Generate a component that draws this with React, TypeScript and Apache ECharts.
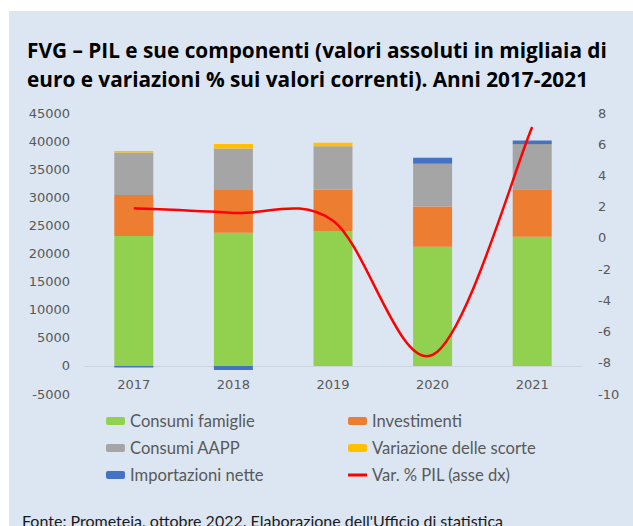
import React, { useEffect, useRef } from "react";
import * as echarts from "echarts";

const years = ["2017", "2018", "2019", "2020", "2021"];
const consumiFamiglie = [23100, 23700, 24000, 21200, 23000];
const investimenti = [7300, 7600, 7400, 7150, 8450];
const consumiAAPP = [7550, 7400, 7700, 7600, 7850];
const variazioneScorte = [300, 800, 600, 0, 100];
const importazioniNette = [-300, -750, 0, 1100, 700];
const varPil = [1.9, 1.6, 1.1, -7.5, 7.1];

const titleText =
  "FVG – PIL e sue componenti (valori assoluti in migliaia di\neuro e variazioni % sui valori correnti). Anni 2017-2021";
const sourceText = "Fonte: Prometeia, ottobre 2022. Elaborazione dell'Ufficio di statistica";

const AXIS_FONT = "'DejaVu Sans', sans-serif";
const TEXT_FONT = "Lato, 'Open Sans', sans-serif";
const TITLE_FONT = "'Open Sans', sans-serif";

export default function App() {
  const ref = useRef<HTMLDivElement>(null);
  useEffect(() => {
    if (!ref.current) return;
    const chart = echarts.init(ref.current, undefined, { renderer: "svg" });
    const barCommon = {
      type: "bar" as const,
      stack: "tot",
      barWidth: 39,
      yAxisIndex: 0,
    };
    // Excel-like smoothed line (Catmull-Rom through the data points)
    const renderPil = (params: any, api: any) => {
      if (params.dataIndex !== 0) return null;
      const pts = varPil.map((v, i) => api.coord([i, v]));
      let d = `M${pts[0][0]},${pts[0][1]}`;
      for (let i = 0; i < pts.length - 1; i++) {
        const p0 = pts[Math.max(0, i - 1)];
        const p1 = pts[i];
        const p2 = pts[i + 1];
        const p3 = pts[Math.min(pts.length - 1, i + 2)];
        const c1x = p1[0] + (p2[0] - p0[0]) / 6;
        const c1y = p1[1] + (p2[1] - p0[1]) / 6;
        const c2x = p2[0] - (p3[0] - p1[0]) / 6;
        const c2y = p2[1] - (p3[1] - p1[1]) / 6;
        d += ` C${c1x},${c1y} ${c2x},${c2y} ${p2[0]},${p2[1]}`;
      }
      return {
        type: "path",
        shape: { pathData: d },
        style: { stroke: "#ff0000", lineWidth: 2.5, fill: "none" },
      };
    };
    const legendText = { fontFamily: TEXT_FONT, fontSize: 16.6, color: "#595959", lineHeight: 18 };
    chart.setOption({
      animation: false,
      backgroundColor: "#ffffff",
      title: {
        text: titleText,
        left: 22,
        top: 30,
        textStyle: {
          fontFamily: TITLE_FONT,
          fontSize: 20.8,
          fontWeight: "bold",
          color: "#000000",
          lineHeight: 29,
        },
      },
      graphic: [
        {
          type: "rect",
          z: -100,
          silent: true,
          shape: { x: 9, y: 11, width: 624, height: 515 },
          style: { fill: "#dce6f2" },
        },
        {
          type: "text",
          left: 22,
          top: 512,
          style: {
            text: sourceText,
            fontFamily: TEXT_FONT,
            fontSize: 16,
            fill: "#1a1a1a",
          },
        },
      ],
      grid: { left: 84, right: 51, top: 113, bottom: 132, containLabel: false },
      xAxis: {
        type: "category",
        data: years,
        position: "bottom",
        offset: -28,
        axisLine: { onZero: false, lineStyle: { color: "#ccd5df", width: 1 } },
        axisTick: { show: false },
        axisLabel: { fontFamily: AXIS_FONT, fontSize: 13, color: "#595959", margin: 12 },
      },
      yAxis: [
        {
          type: "value",
          min: -5000,
          max: 45000,
          interval: 5000,
          axisLine: { show: false },
          axisTick: { show: false },
          splitLine: { show: false },
          axisLabel: {
            fontFamily: AXIS_FONT,
            fontSize: 13,
            color: "#595959",
            margin: 14,
            formatter: (v: number) => String(v),
          },
        },
        {
          type: "value",
          min: -10,
          max: 8,
          interval: 2,
          position: "right",
          axisLine: { show: false },
          axisTick: { show: false },
          splitLine: { show: false },
          axisLabel: {
            fontFamily: AXIS_FONT,
            fontSize: 13,
            color: "#595959",
            margin: 16,
            formatter: (v: number) => String(v),
          },
        },
      ],
      legend: [
        {
          left: 101,
          top: 407,
          orient: "vertical",
          itemWidth: 19,
          itemHeight: 8,
          itemGap: 9,
          data: ["Consumi famiglie", "Consumi AAPP", "Importazioni nette"],
          textStyle: legendText,
        },
        {
          left: 343,
          top: 407,
          orient: "vertical",
          itemWidth: 19,
          itemHeight: 8,
          itemGap: 9,
          data: [
            "Investimenti",
            "Variazione delle scorte",
            { name: "Var. % PIL (asse dx)", icon: "path://M0,0H19V3H0Z" },
          ],
          textStyle: legendText,
        },
      ],
      series: [
        { ...barCommon, name: "Consumi famiglie", data: consumiFamiglie, itemStyle: { color: "#92d050" } },
        { ...barCommon, name: "Investimenti", data: investimenti, itemStyle: { color: "#ed7d31" } },
        { ...barCommon, name: "Consumi AAPP", data: consumiAAPP, itemStyle: { color: "#a5a5a5" } },
        { ...barCommon, name: "Variazione delle scorte", data: variazioneScorte, itemStyle: { color: "#ffc000" } },
        { ...barCommon, name: "Importazioni nette", data: importazioniNette, itemStyle: { color: "#4472c4" } },
        {
          type: "custom",
          name: "Var. % PIL (asse dx)",
          yAxisIndex: 1,
          data: varPil.map((v, i) => [i, v]),
          encode: { x: 0, y: 1 },
          renderItem: renderPil,
          clip: false,
          z: 10,
          itemStyle: { color: "#ff0000" },
        },
      ],
    });
    return () => chart.dispose();
  }, []);
  return (
    <div
      ref={ref}
      style={{ position: "fixed", left: 0, top: 0, width: 633, height: 526 }}
    />
  );
}
